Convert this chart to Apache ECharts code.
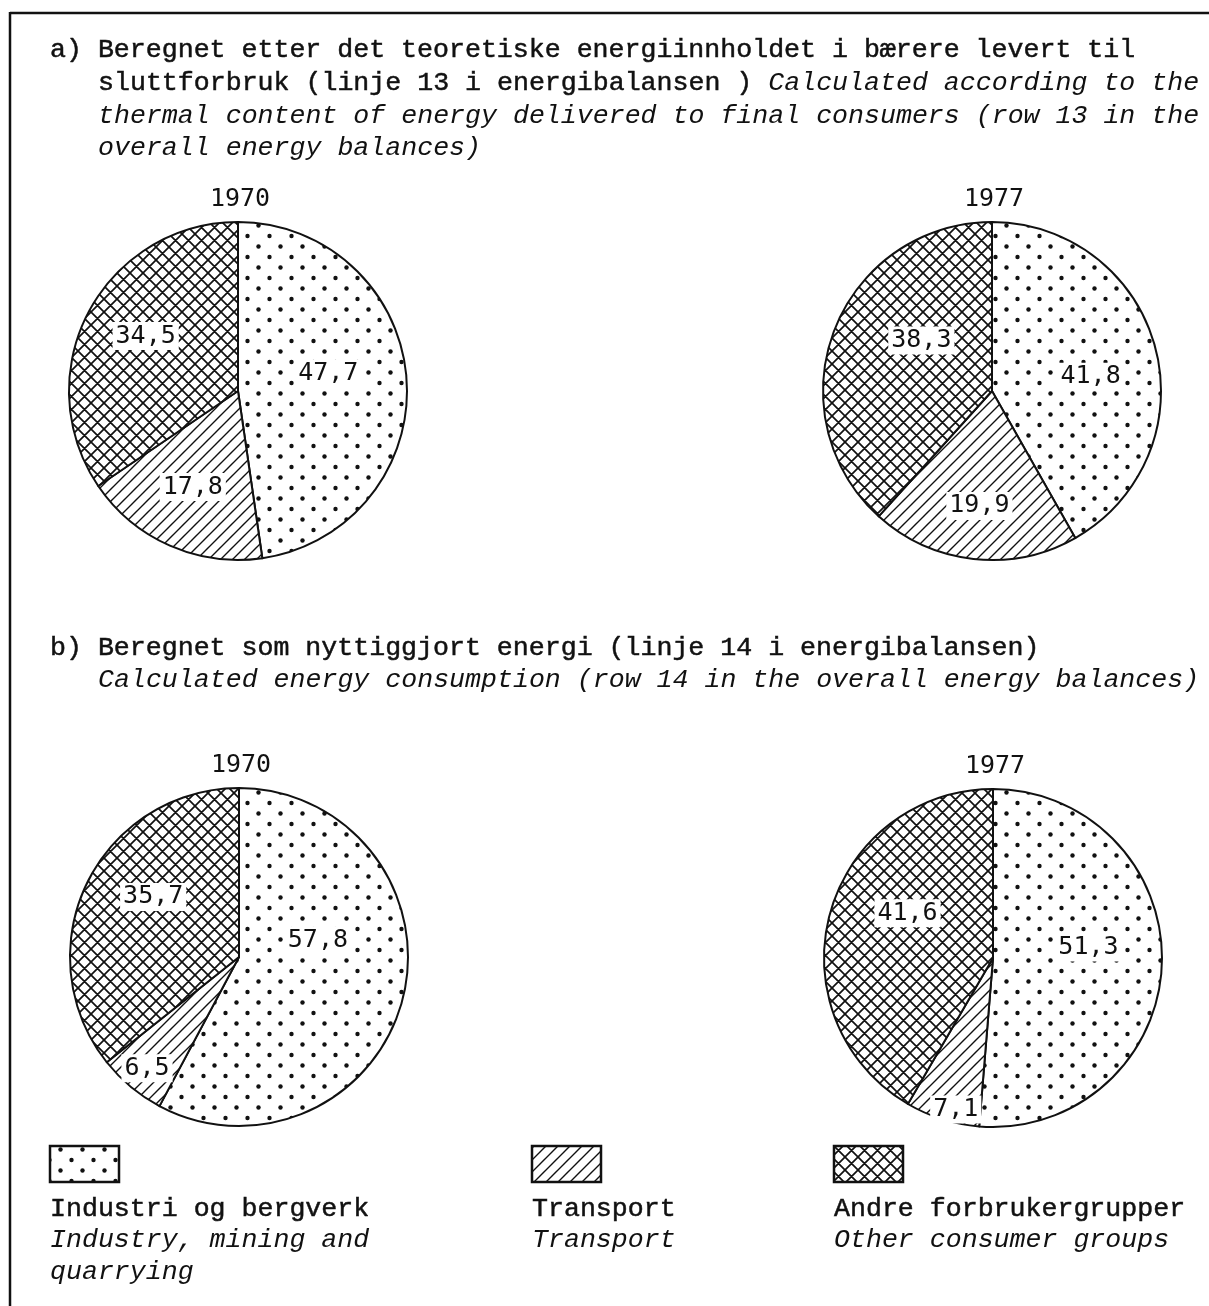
<!DOCTYPE html>
<html>
<head>
<meta charset="utf-8">
<script src="https://cdn.jsdelivr.net/npm/echarts@6/dist/echarts.min.js"></script>
<style>
html,body{margin:0;padding:0;background:#fff;}
#chart{width:1209px;height:1306px;}
</style>
</head>
<body>
<div id="chart"></div>
<script>
// ---- data ----
const categories = ['Industri og bergverk', 'Transport', 'Andre forbrukergrupper'];
const categoriesEn = [['Industry, mining and', 'quarrying'], ['Transport'], ['Other consumer groups']];
const years = ['1970', '1977'];
const valuesA1970 = [47.7, 17.8, 34.5];
const valuesA1977 = [41.8, 19.9, 38.3];
const valuesB1970 = [57.8, 6.5, 35.7];
const valuesB1977 = [51.3, 7.1, 41.6];

// ---- styles ----
const INK = '#111';
const MONO = "'Courier New', 'Liberation Mono', Courier";
const SANS_MONO = "'DejaVu Sans Mono', monospace";
const FS = 26.6;

function makeCanvas(w, h) {
  const c = document.createElement('canvas');
  c.width = w; c.height = h;
  const g = c.getContext('2d');
  g.fillStyle = '#fff'; g.fillRect(0, 0, w, h);
  return [c, g];
}
function dotsPattern() {
  const [c, g] = makeCanvas(22, 21);
  g.fillStyle = INK;
  [[5.5, 5], [16.5, 15.5]].forEach(([x, y]) => { g.beginPath(); g.arc(x, y, 2.2, 0, Math.PI * 2); g.fill(); });
  return { image: c, repeat: 'repeat' };
}
function hatchPattern() {
  const s = 12;
  const [c, g] = makeCanvas(s, s);
  g.strokeStyle = INK; g.lineWidth = 1.4;
  g.beginPath();
  g.moveTo(-1, s + 1); g.lineTo(s + 1, -1);
  g.moveTo(-2, 2); g.lineTo(2, -2);
  g.moveTo(s - 2, s + 2); g.lineTo(s + 2, s - 2);
  g.stroke();
  return { image: c, repeat: 'repeat' };
}
function crossPattern() {
  const s = 13;
  const [c, g] = makeCanvas(s, s);
  g.strokeStyle = INK; g.lineWidth = 1.7;
  g.beginPath();
  g.moveTo(-1, s + 1); g.lineTo(s + 1, -1);
  g.moveTo(-2, 2); g.lineTo(2, -2);
  g.moveTo(s - 2, s + 2); g.lineTo(s + 2, s - 2);
  g.moveTo(-1, -1); g.lineTo(s + 1, s + 1);
  g.moveTo(-2, s - 2); g.lineTo(2, s + 2);
  g.moveTo(s - 2, -2); g.lineTo(s + 2, 2);
  g.stroke();
  return { image: c, repeat: 'repeat' };
}
const patterns = [dotsPattern(), hatchPattern(), crossPattern()];

// pie placement and label nudges (layout only)
const pies = [
  { values: valuesA1970, year: years[0], center: [238, 391], nudge: [[3, -11], [-10, 16], [-15, -14]] },
  { values: valuesA1977, year: years[1], center: [992, 391], nudge: [[14, 8], [-3, 28], [11, -19]] },
  { values: valuesB1970, year: years[0], center: [239, 957], nudge: [[-6, -38], [-36, 44], [-7, -22]] },
  { values: valuesB1977, year: years[1], center: [993, 958], nudge: [[8, -14], [-11, 68], [-1, -22]] }
];
const R = 169;

const series = pies.map((p, si) => ({
  type: 'pie',
  center: p.center,
  radius: [0, R],
  startAngle: 90,
  clockwise: true,
  avoidLabelOverlap: false,
  silent: true,
  animation: false,
  itemStyle: { borderColor: INK, borderWidth: 2 },
  label: {
    show: true,
    position: 'inside',
    formatter: (d) => d.value.toFixed(1).replace('.', ','),
    fontFamily: SANS_MONO,
    fontSize: 25,
    color: INK,
    backgroundColor: '#fff',
    padding: [2, 3, 1, 3]
  },
  labelLine: { show: false },
  labelLayout: (params) => {
    const n = p.nudge[params.dataIndex];
    return { dx: n[0], dy: n[1] };
  },
  emphasis: { disabled: true },
  data: p.values.map((v, i) => ({ name: categories[i], value: v, itemStyle: { color: patterns[i] } }))
}));

// text measurement for mixed-style lines
const measureCtx = document.createElement('canvas').getContext('2d');
function widthOf(s, italic) {
  measureCtx.font = (italic ? 'italic ' : '') + FS + 'px ' + MONO;
  return measureCtx.measureText(s).width;
}
function txt(x, y, parts) {
  const out = [];
  let cx = x;
  parts.forEach(([s, it]) => {
    out.push({
      type: 'text', x: cx, y: y, silent: true,
      style: {
        text: s, fontFamily: MONO, fontSize: FS, fontStyle: it ? 'italic' : 'normal',
        fill: INK, stroke: it ? null : INK, lineWidth: it ? 0 : 0.5,
        verticalAlign: 'middle', align: 'left'
      }
    });
    cx += widthOf(s, it);
  });
  return out;
}

const graphics = [
  // frame
  { type: 'line', shape: { x1: 10, y1: 13, x2: 1209, y2: 13 }, style: { stroke: INK, lineWidth: 2.5 } },
  { type: 'line', shape: { x1: 10, y1: 12, x2: 10, y2: 1306 }, style: { stroke: INK, lineWidth: 2.5 } },
  ...txt(50, 50, [['a) Beregnet etter det teoretiske energiinnholdet i bærere levert til', false]]),
  ...txt(98, 83, [['sluttforbruk (linje 13 i energibalansen ) ', false], ['Calculated according to the', true]]),
  ...txt(98, 116, [['thermal content of energy delivered to final consumers (row 13 in the', true]]),
  ...txt(98, 148, [['overall energy balances)', true]]),
  ...txt(50, 648, [['b) Beregnet som nyttiggjort energi (linje 14 i energibalansen)', false]]),
  ...txt(98, 680, [['Calculated energy consumption (row 14 in the overall energy balances)', true]])
];

// year labels
pies.forEach((p, i) => {
  graphics.push({
    type: 'text', x: p.center[0] + 2, y: p.center[1] - R - 23, silent: true,
    style: { text: p.year, fontFamily: SANS_MONO, fontSize: 25, fill: INK, align: 'center', verticalAlign: 'middle' }
  });
});

// legend
const legendX = [50, 532, 834];
categories.forEach((c, i) => {
  graphics.push({
    type: 'rect', shape: { x: legendX[i], y: 1146, width: 69, height: 36 }, silent: true,
    style: { fill: patterns[i], stroke: INK, lineWidth: 2.5 }
  });
  graphics.push(...txt(legendX[i], 1209, [[c, false]]));
  categoriesEn[i].forEach((line, j) => {
    graphics.push(...txt(legendX[i], 1240 + j * 32, [[line, true]]));
  });
});

const chart = echarts.init(document.getElementById('chart'), null, { renderer: 'canvas' });
chart.setOption({
  backgroundColor: '#fff',
  animation: false,
  series: series,
  graphic: graphics
});
</script>
</body>
</html>
